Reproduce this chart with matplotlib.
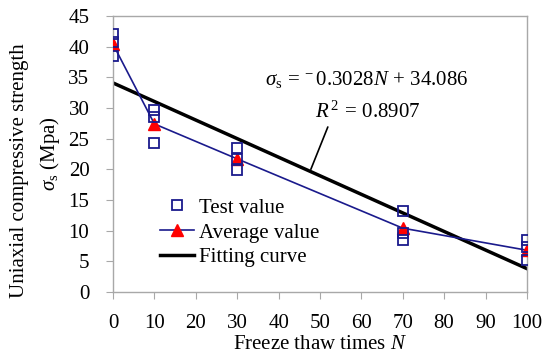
import matplotlib
matplotlib.use('Agg')
import matplotlib.pyplot as plt
import numpy as np

plt.rcParams['font.family'] = ['Liberation Serif', 'DejaVu Serif']
plt.rcParams['mathtext.fontset'] = 'custom'
plt.rcParams['mathtext.rm'] = 'Liberation Serif'
plt.rcParams['mathtext.it'] = 'Liberation Serif:italic'

# freeze-thaw cycles and measured strengths (three specimens each)
cycles = [0, 10, 30, 70, 100]
test_1 = [42.0, 29.7, 23.5, 13.2, 8.4]
test_2 = [40.8, 28.5, 21.7, 9.6, 7.3]
test_3 = [38.5, 24.3, 19.9, 8.4, 5.2]
average = [40.4, 27.4, 21.7, 10.4, 6.8]

# linear fit reported in the figure
slope, intercept = -0.3028, 34.086
fit_x = np.array([0, 100])

navy = '#1a1a8c'
axis_grey = '#a8a8a8'
fs = 15

fig = plt.figure(figsize=(5.5, 3.64), dpi=100)
ax = fig.add_axes([0.2055, 0.198, 0.7525, 0.758])

for vals in (test_1, test_2, test_3):
    ax.plot(cycles, vals, linestyle='none', marker='s', markersize=6.5,
            markerfacecolor='none', markeredgecolor=navy, markeredgewidth=1.3,
            zorder=4)
h_test = ax.plot([], [], linestyle='none', marker='s', markersize=6.5,
                 markerfacecolor='none', markeredgecolor=navy,
                 markeredgewidth=1.3)[0]
h_avg = ax.plot(cycles, average, color=navy, linewidth=1.2, marker='^',
                markersize=8, markerfacecolor='red', markeredgecolor='red',
                zorder=3)[0]
h_fit = ax.plot(fit_x, slope * fit_x + intercept, color='black',
                linewidth=2.5, zorder=2)[0]

ax.set_xlim(0, 100)
ax.set_ylim(0, 45)
ax.set_xticks(range(0, 101, 10))
ax.set_yticks(range(0, 46, 5))
ax.tick_params(direction='out', length=5, color=axis_grey, labelsize=fs,
               pad=11)
ax.tick_params(axis='y', pad=12)
for sp in ax.spines.values():
    sp.set_color(axis_grey)
    sp.set_linewidth(1.0)

ax.set_xlabel(r'Freeze thaw times $\mathit{N}$', fontsize=fs, labelpad=1)
fig.text(0.036, 0.53, 'Uniaxial compressive strength', rotation=90,
         fontsize=fs, ha='center', va='center')
fig.text(0.09, 0.577, r'$\mathit{σ}_{\rm s}$ (Mpa)', rotation=90,
         fontsize=fs, ha='center', va='center')

ax.text(0.367, 0.77,
        r'$\mathit{σ}_{\rm s}\,=\,{}^{-}\,0.3028\mathit{N}\,+\,34.086$',
        transform=ax.transAxes, fontsize=fs, ha='left', va='center')
ax.text(0.488, 0.65, r'$\mathit{R}^{\,2}\,=\,0.8907$', transform=ax.transAxes,
        fontsize=fs, ha='left', va='center')
ax.annotate('', xy=(47.8, 20.0), xytext=(51.9, 26.9),
            arrowprops=dict(arrowstyle='-', color='black', linewidth=1.2,
                            shrinkA=0, shrinkB=0))

ax.legend([h_test, h_avg, h_fit], ['Test value', 'Average value', 'Fitting curve'],
          loc='upper left', bbox_to_anchor=(0.094, 0.37), frameon=False,
          fontsize=fs, handlelength=1.6, handletextpad=0.25, labelspacing=0.25,
          borderaxespad=0)

fig.savefig('out.png', dpi=100)
